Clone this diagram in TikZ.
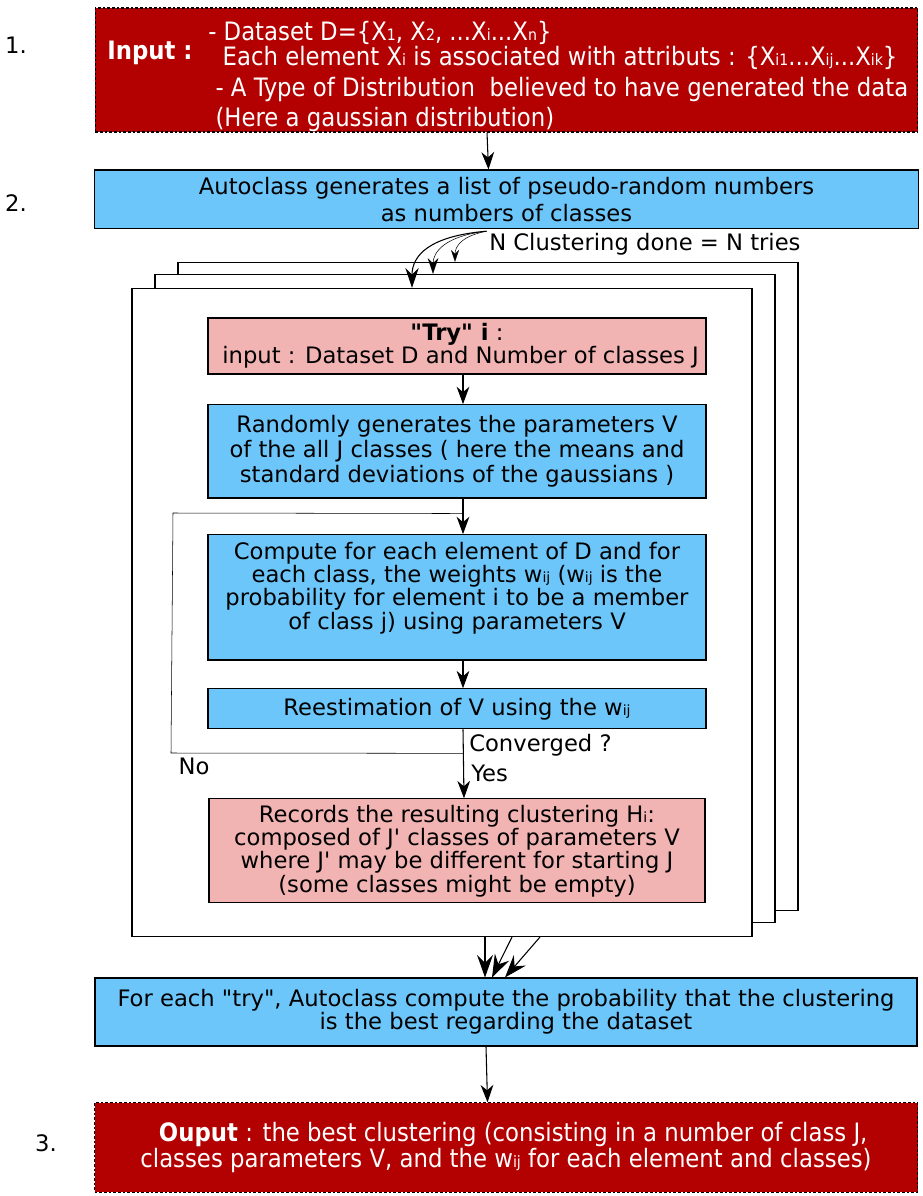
\documentclass[tikz,border=0pt]{standalone}
\usepackage{fontspec}
\setmainfont{DejaVu Sans}
\newfontfamily\condensed{DejaVu Sans Condensed}
\usepackage{tikz}
\usetikzlibrary{
  calc,
  arrows.meta} % for Stealth arrows
\definecolor{inred}{HTML}{B30000}
\definecolor{stepblue}{HTML}{6CC6FA}
\definecolor{trypink}{HTML}{F2B3B3}
\newcommand{\idx}[1]{{\fontsize{0.62em}{1em}\selectfont #1}}
\newcommand{\qq}{\textquotedbl}
\newcommand{\sq}{\textquotesingle}
\tikzstyle{ioblock} = [draw=black, thick, dash pattern=on 2pt off 1.5pt, fill=inred, text=white, font=\condensed\fontsize{19}{17}\selectfont]
\tikzstyle{iotext} = [text=white, inner sep=0pt, font=\condensed\fontsize{19}{17}\selectfont]
\tikzstyle{block} = [draw, thick, fill=stepblue, align=center, font=\fontsize{17}{17.5}\selectfont]
\tikzstyle{tryblock} = [draw, thick, fill=trypink, align=center, font=\fontsize{17}{17.5}\selectfont]
\tikzstyle{frame} = [draw, thick, fill=white, minimum width=465pt, minimum height=486pt]
\tikzstyle{plain} = [font=\fontsize{17}{17}\selectfont, inner sep=0pt]
\tikzstyle{big} = [-{Stealth[length=17pt, width=12pt, inset=6pt]}]

\begin{document}
\begin{tikzpicture}[x=0.75pt, y=-0.75pt, >={Stealth[length=13pt, width=9.5pt, inset=4pt]}]
\useasboundingbox (0,0) rectangle (922,1196);

% main column
\node[ioblock, minimum width=617pt, minimum height=93pt] (inp) at (506.5,70) {};
\node[iotext, font=\condensed\bfseries\fontsize{19}{17}\selectfont] (inlbl) at (150,53) {Input :};
\node[iotext, anchor=west, align=left] (intxt) at (208,76.5)
  {- Dataset D=\{X\idx{1}, X\idx{2}, ...X\idx{i}...X\idx{n}\}\\
   \ \ Each element X\idx{i} is associated with attributs : \{X\idx{i1}...X\idx{ij}...X\idx{ik}\}\\[5.25pt]
   \ - A Type of Distribution\ \ believed to have generated the data\\[3pt]
   \ (Here a gaussian distribution)};
\node[block, below of=inp, node distance=97pt, minimum width=618pt, minimum height=44pt,
  font=\fontsize{17}{20}\selectfont] (gen)
  {Autoclass generates a list of pseudo-random numbers\\ as numbers of classes};

% the N tries
\node[frame] (back) at (488,586.5) {};
\node[frame] (mid) at (465,598.5) {};
\node[frame] (front) at (442,612.5) {};

\node[tryblock, minimum width=373.5pt, minimum height=42pt] (tryhd) at (457,346)
  {\textbf{\qq Try\qq{} i} :\\ \ input : Dataset D and Number of classes J};
\node[block, below of=tryhd, node distance=79pt, minimum width=373.5pt, minimum height=70pt,
  font=\fontsize{17}{18.5}\selectfont] (rand)
  {Randomly generates the parameters V\\of the all J classes ( here the means and\\standard deviations of the gaussians )};
\node[block, below of=rand, node distance=109.5pt, minimum width=373.5pt, minimum height=94pt] (comp)
  {Compute for each element of D and for\\each class, the weights w\idx{ij} (w\idx{ij} is the\\probability for element i to be a member\\of class j) using parameters V\\[0pt]};
\node[block, below of=comp, node distance=83.6pt, minimum width=373.5pt, minimum height=30pt] (reest)
  {Reestimation of V using the w\idx{ij}};
\node[tryblock, below of=reest, node distance=106.5pt, minimum width=372pt, minimum height=78pt] (rec)
  {Records the resulting clustering H\idx{i}:\\composed of J\sq{} classes of parameters V\\where J\sq{} may be different for starting J\\(some classes might be empty)};

\node[block, minimum width=616.5pt, minimum height=51pt] (best) at (506,1012)
  {For each \qq try\qq, Autoclass compute the probability that the clustering\\is the best regarding the dataset};
\node[ioblock, below of=best, node distance=101.6pt, minimum width=617.25pt, minimum height=67pt, align=center] (out)
  {\ \ \textbf{Ouput} : the best clustering (consisting in a number of class J,\\classes parameters V, and the w\idx{ij} for each element and classes)};

% step numbers
\node[plain] (n1) at (16,45) {1.};
\node[plain] (n2) at (16,203) {2.};
\node[plain] (n3) at (46,1143) {3.};

% connectors
\draw[->, thick] ($(inp.south)+(-19.5,0)$) -- ($(gen.north)+(-18,0)$);
\coordinate (split) at ($(gen.south)+(-20,2)$);
\draw[-{Stealth[length=15pt, width=10pt, inset=5pt]}, thick] (split) .. controls (430,236) and (412,255) .. ($(front.north)+(-30,0)$);
\draw[-{Stealth[length=12pt, width=8pt, inset=4pt]}] (split) .. controls (445,236) and (433,252) .. ($(mid.north)+(-32,0)$);
\draw[-{Stealth[length=9pt, width=6pt, inset=3pt]}] (split) .. controls (462,236) and (455,246) .. ($(back.north)+(-33,0)$);
\node[plain, anchor=west] (ntries) at (489,244) {N Clustering done = N tries};

\draw[->, thick] ($(tryhd.south)+(6,0)$) -- ($(rand.north)+(6,0)$);
\draw[->, thick] ($(rand.south)+(6,0)$) -- ($(comp.north)+(6,0)$);
\draw[->, thick] ($(comp.south)+(6,0)$) -- ($(reest.north)+(6,0)$);
\draw[->, thick] ($(reest.south)+(6,0)$) -- ($(rec.north)+(7,0)$);
\coordinate (noout) at ($(reest.south)+(6,24)$);
\coordinate (noin) at ($(rand.south)+(6,15)$);
\draw (noout) -- (171,753) -- (173,513) -- (noin);
\node[plain] (no) at (194,766) {No};
\node[plain, anchor=west] (conv) at (469,745) {Converged ?};
\node[plain, anchor=west] (yes) at (471,773) {Yes};

\draw[big, thick] ($(front.south)+(43,0)$) -- ($(best.north)+(-21,0)$);
\draw[big, thick] ($(front.south)+(70,0)$) -- ($(best.north)+(-14,0)$);
\draw[big, thick] ($(front.south)+(98,0)$) -- ($(best.north)+(-1,0)$);
\draw[->, thick] ($(best.south)+(-20,0)$) -- ($(out.north)+(-18.5,0)$);

\end{tikzpicture}
\end{document}
